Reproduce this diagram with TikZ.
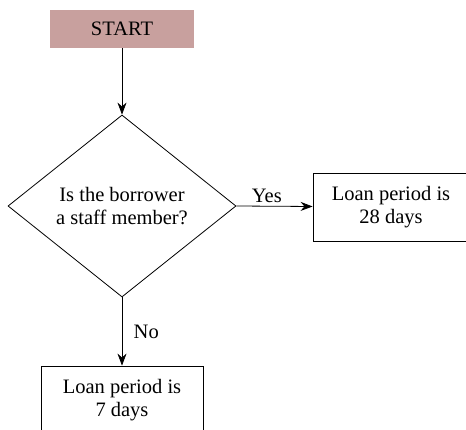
\documentclass[tikz,border=0pt]{standalone}
\usepackage{fontspec}
\setmainfont{Liberation Serif}
\usepackage{xcolor}
\usepackage{tikz}
\usetikzlibrary{
  shapes.geometric,
  arrows.meta
}
\definecolor{startfill}{RGB}{200,160,158}

\begin{document}
\begin{tikzpicture}[%設定
        x=1pt,y=-1pt,
        font=\fontsize{20.5}{23}\selectfont,
        flow/.style={
            -{Stealth[length=12pt,width=9pt]},
            line width=0.8pt
          },
        startbox/.style={
            rectangle,
            fill=startfill,
            minimum width=144pt,
            minimum height=38pt
          },
        decision/.style={
            diamond,
            draw,
            line width=0.8pt,
            inner sep=0pt,
            minimum width=228pt,
            minimum height=182pt,
            align=center
          },
        result/.style={
            rectangle,
            draw,
            line width=0.8pt,
            minimum height=68pt,
            align=center
          }
      ]

      % 画面の大きさ
      \useasboundingbox (0,0) rectangle (466,430);

      % ノードの配置
      \node[startbox] (start) at (122,29) {START};
      \node[decision] (staff) at (122,206) {Is the borrower\\a staff member?};
      \node[result,minimum width=156pt] (long) at (391,207) {Loan period is\\28 days};
      \node[result,minimum width=162pt] (short) at (122,400) {Loan period is\\7 days};

      % 矢印
      \draw[flow] (start) -- (staff);
      \draw[flow] (staff.east) -- (long) node[pos=.4,above] {Yes};
      \draw[flow] (staff.south) -- (short) node[midway,right=8pt] {No};

    \end{tikzpicture}
\end{document}
